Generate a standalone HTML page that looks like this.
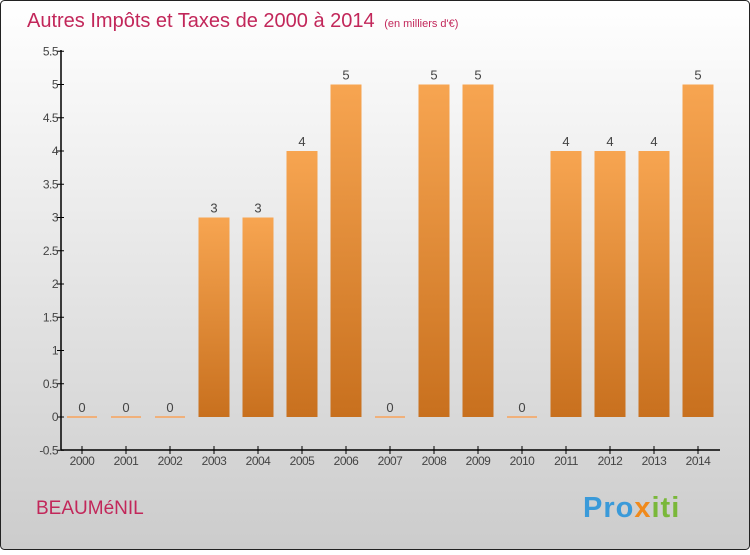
<!DOCTYPE html>
<html><head><meta charset="utf-8"><style>
body{margin:0;width:750px;height:550px;overflow:hidden;font-family:"Liberation Sans",sans-serif}
</style></head><body>
<svg width="750" height="550" xmlns="http://www.w3.org/2000/svg">
<defs>
<linearGradient id="bg" x1="0" y1="0" x2="0" y2="1"><stop offset="0" stop-color="#ffffff"/><stop offset="1" stop-color="#cccccc"/></linearGradient>
<linearGradient id="bar" x1="0" y1="0" x2="0" y2="1"><stop offset="0" stop-color="#f7a551"/><stop offset="1" stop-color="#c8701e"/></linearGradient>
</defs>
<rect x="0.5" y="0.5" width="749" height="549" rx="4" fill="url(#bg)" stroke="#222"/>
<text x="27" y="27" font-size="20" fill="#c2275a">Autres Impôts et Taxes de 2000 à 2014 <tspan font-size="11" dx="4">(en milliers d'€)</tspan></text>
<g id="plot"></g>
<text x="36" y="514" font-size="19" fill="#c2275a">BEAUMéNIL</text>
<text x="583" y="517" font-size="29" font-weight="bold" fill="#3a9ad9" letter-spacing="1">Pro<tspan fill="#f08a1c">x</tspan><tspan fill="#7ab83a">iti</tspan></text>
</svg>
<script>
const years=["2000","2001","2002","2003","2004","2005","2006","2007","2008","2009","2010","2011","2012","2013","2014"];
const values=[0,0,0,3,3,4,5,0,5,5,0,4,4,4,5];
const ticks=[-0.5,0,0.5,1,1.5,2,2.5,3,3.5,4,4.5,5,5.5];
const NS="http://www.w3.org/2000/svg";
const g=document.getElementById("plot");
const y=v=>417-v*66.5;
const x=i=>82+i*44;
function mk(t,a){const e=document.createElementNS(NS,t);for(const k in a)e.setAttribute(k,a[k]);g.appendChild(e);return e;}
let ax=mk("line",{x1:61,y1:50,x2:61,y2:450,stroke:"#000","stroke-width":1.5});


let bx=mk("line",{x1:61,y1:450,x2:720,y2:450,stroke:"#000","stroke-width":1.5});


ticks.forEach(t=>{
 let l=mk("line",{x1:57,x2:64,y1:y(t),y2:y(t),stroke:"#000"});
 
 
 let tx=mk("text",{x:58,y:y(t)+4,"font-size":12,"text-anchor":"end",fill:"#444","letter-spacing":"-0.5"});
 tx.textContent=String(t);
 
 
});
years.forEach((yr,i)=>{
 const v=values[i];
 let l=mk("line",{x1:x(i),x2:x(i),y1:446,y2:454,stroke:"#000"});
 
 
 let t=mk("text",{x:x(i),y:465,"font-size":12,"text-anchor":"middle",fill:"#444","letter-spacing":"-0.5"});
 t.textContent=yr;
 
 
 let b;
 if(v===0){b=mk("rect",{x:x(i)-15,y:y(0)-1,width:30,height:2,fill:"#f0b07a"});}
 else{b=mk("rect",{x:x(i)-15.5,y:y(v),width:31,height:y(0)-y(v),fill:"url(#bar)"});}
 
 
 let vl=mk("text",{x:x(i),y:y(v)-5,"font-size":13,"text-anchor":"middle",fill:"#444"});
 vl.textContent=String(v);
 
 
});
</script>
</body></html>
